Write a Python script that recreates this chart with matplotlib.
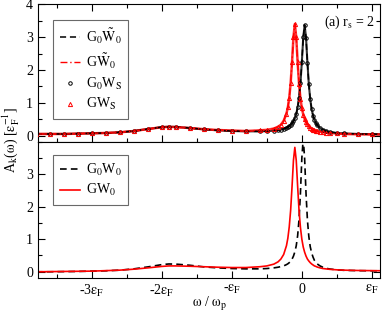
import numpy as np
import matplotlib
matplotlib.use('Agg')
import matplotlib.pyplot as plt
from matplotlib.ticker import MultipleLocator

plt.rcParams['font.family'] = ['Liberation Serif', 'DejaVu Serif']
plt.rcParams['mathtext.fontset'] = 'stix'
plt.rcParams['mathtext.default'] = 'rm'
plt.rcParams['font.size'] = 10

# frequency grid (in units of eps_F)
omega = [-3.8, -3.6, -3.4, -3.2, -3.0, -2.8, -2.6, -2.4, -2.2, -2.0, -1.9,
         -1.8, -1.6, -1.4, -1.2, -1.0, -0.8, -0.6, -0.5, -0.4, -0.34, -0.3,
         -0.26, -0.22, -0.2, -0.18, -0.16, -0.14, -0.12, -0.1, -0.08, -0.06,
         -0.04, -0.02, 0.0, 0.02, 0.04, 0.06, 0.08, 0.1, 0.12, 0.14, 0.16,
         0.18, 0.2, 0.22, 0.26, 0.3, 0.34, 0.4, 0.5, 0.6, 0.8, 1.0, 1.2]

# top panel: G0W0~ (same as G0WS) and GW0~ (same as GWS)
top_g0w0 = [0.05, 0.05, 0.05, 0.06, 0.07, 0.08, 0.10, 0.14, 0.20, 0.26, 0.27,
            0.265, 0.23, 0.19, 0.16, 0.14, 0.13, 0.13, 0.135, 0.15, 0.165, 0.18,
            0.205, 0.24, 0.26, 0.29, 0.33, 0.38, 0.44, 0.53, 0.66, 0.86,
            1.15, 1.59, 2.24, 2.99, 3.37, 2.98, 2.21, 1.56, 1.10, 0.81, 0.61,
            0.48, 0.39, 0.32, 0.23, 0.18, 0.14, 0.11, 0.08, 0.065, 0.05, 0.045, 0.04]
top_gw0 = [0.05, 0.05, 0.05, 0.06, 0.07, 0.08, 0.10, 0.14, 0.20, 0.255, 0.265,
           0.26, 0.23, 0.195, 0.17, 0.155, 0.14, 0.16, 0.175, 0.215, 0.27, 0.33,
           0.45, 0.67, 0.86, 1.15, 1.60, 2.24, 3.0, 3.40, 2.99, 2.23,
           1.58, 1.13, 0.84, 0.64, 0.51, 0.41, 0.34, 0.29, 0.24, 0.21, 0.185,
           0.165, 0.15, 0.135, 0.115, 0.10, 0.09, 0.08, 0.065, 0.05, 0.04, 0.035, 0.035]

# bottom panel: G0W0 and GW0
bot_g0w0 = [0.0, 0.0, 0.005, 0.01, 0.02, 0.03, 0.05, 0.09, 0.15, 0.22, 0.24,
            0.235, 0.20, 0.15, 0.12, 0.10, 0.09, 0.09, 0.10, 0.12, 0.14, 0.16,
            0.18, 0.22, 0.245, 0.28, 0.32, 0.39, 0.48, 0.61, 0.80, 1.11,
            1.61, 2.42, 3.49, 4.10, 3.47, 2.39, 1.58, 1.08, 0.77, 0.58, 0.45,
            0.35, 0.29, 0.24, 0.18, 0.14, 0.11, 0.085, 0.06, 0.045, 0.035, 0.03, 0.03]
bot_gw0 = [0.0, 0.005, 0.01, 0.015, 0.02, 0.035, 0.05, 0.08, 0.12, 0.165, 0.18,
           0.18, 0.17, 0.155, 0.14, 0.13, 0.13, 0.155, 0.18, 0.235, 0.305, 0.39,
           0.53, 0.80, 1.03, 1.38, 1.89, 2.62, 3.42, 3.82, 3.42, 2.62,
           1.88, 1.36, 1.0, 0.76, 0.60, 0.48, 0.39, 0.33, 0.28, 0.24, 0.21,
           0.18, 0.165, 0.145, 0.12, 0.10, 0.09, 0.075, 0.06, 0.05, 0.04, 0.035, 0.03]

x_ticks = [-3, -2, -1, 0, 1]
x_ticklabels = [r'-3$\varepsilon_F$', r'-2$\varepsilon_F$', r'-$\varepsilon_F$', '0', r'$\varepsilon_F$']


def style_axis(ax, top_ticks):
    ax.set_xlim(-3.77, 1.117)
    ax.set_xticks(x_ticks)
    ax.xaxis.set_minor_locator(MultipleLocator(0.5))
    ax.yaxis.set_major_locator(MultipleLocator(1))
    ax.yaxis.set_minor_locator(MultipleLocator(0.5))
    ax.tick_params(which='both', direction='in', right=True, top=top_ticks, width=0.8)
    ax.tick_params(which='major', length=5, labelsize=10)
    ax.tick_params(which='minor', length=3)
    for s in ax.spines.values():
        s.set_linewidth(0.8)


fig = plt.figure(figsize=(3.82, 3.19), dpi=100)
ax1 = fig.add_axes([0.0995, 0.5564, 0.8953, 0.4301])
ax2 = fig.add_axes([0.0995, 0.1276, 0.8953, 0.4288])

# top panel: dense marker runs drawn as a soft band underneath
ax1.plot(omega, top_g0w0, color='black', lw=1.5, alpha=0.8, zorder=1)
ax1.plot(omega, top_gw0, color='red', lw=1.8, alpha=0.8, zorder=1)
ax1.plot(omega, top_g0w0, color='black', ls=(0, (4, 2.5)), lw=1.1, label=r'G$_0\tilde{\mathrm{W}}_0$', zorder=2)
ax1.plot(omega, top_gw0, color='red', ls=(0, (5, 2, 1, 2)), lw=1.0, label=r'G$\tilde{\mathrm{W}}_0$', zorder=2)
ax1.plot(omega, top_g0w0, ls='none', marker='o', ms=2.5, mfc='none', mec='black', mew=0.7,
         label=r'G$_0$W$_S$', zorder=3)
ax1.plot(omega, top_gw0, ls='none', marker='^', ms=3, mfc='none', mec='red', mew=0.7,
         label=r'GW$_S$', zorder=4)
style_axis(ax1, True)
ax1.set_ylim(-0.18, 4.0)
ax1.tick_params(labelbottom=False)
ax1.text(0.985, 0.871, r'(a) r$_s$ = 2', transform=ax1.transAxes, ha='right', va='center', fontsize=10)
leg1 = ax1.legend(loc='upper left', bbox_to_anchor=(0.045, 0.885), fancybox=False, edgecolor='#444444',
                  handlelength=1.5, labelspacing=0.35, borderpad=0.45, handletextpad=0.4,
                  borderaxespad=0.0, fontsize=10)
leg1.get_frame().set_linewidth(0.8)

# bottom panel
ax2.plot(omega, bot_g0w0, color='black', ls=(0, (4, 2.5)), lw=1.2, label=r'G$_0$W$_0$')
ax2.plot(omega, bot_gw0, color='red', lw=1.2, label=r'GW$_0$')
style_axis(ax2, False)
ax2.set_ylim(-0.2, 4.0)
ax2.set_yticks([0, 1, 2, 3])
ax2.set_xticklabels(x_ticklabels)
ax2.set_xlabel(r'$\omega$ / $\omega_p$', fontsize=10)
ax2.xaxis.set_label_coords(0.5, -0.125)
leg2 = ax2.legend(loc='upper left', bbox_to_anchor=(0.045, 0.90), fancybox=False, edgecolor='#444444',
                  handlelength=1.5, labelspacing=0.35, borderpad=0.45, handletextpad=0.4,
                  borderaxespad=0.0, fontsize=10)
leg2.get_frame().set_linewidth(0.8)

fig.text(0.03, 0.56, r'A$_k$($\omega$) [$\varepsilon_F^{-1}$]', rotation=90, ha='center', va='center', fontsize=10)

fig.savefig('out.png', dpi=100)
